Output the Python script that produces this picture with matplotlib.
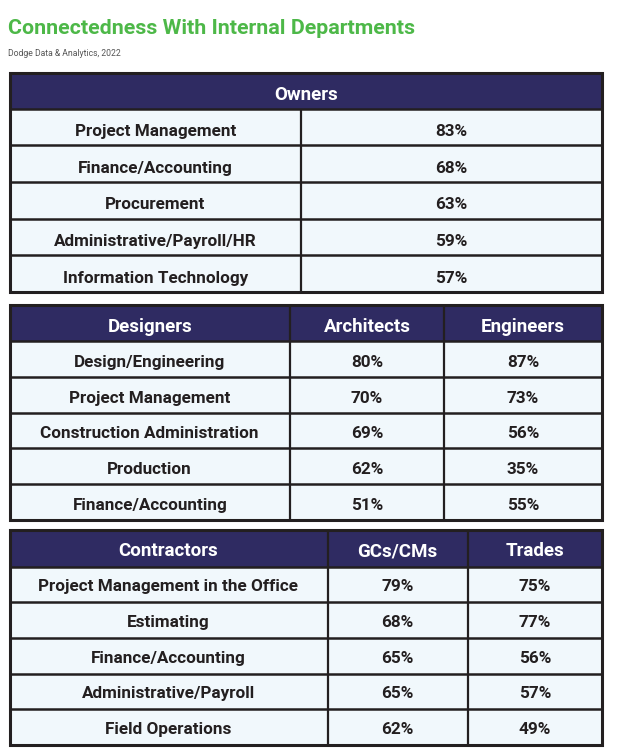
import matplotlib.pyplot as plt
from matplotlib.patches import Rectangle

plt.rcParams['font.family'] = ['Roboto', 'DejaVu Sans']

owner_depts = ['Project Management', 'Finance/Accounting', 'Procurement',
               'Administrative/Payroll/HR', 'Information Technology']
owner_pct = [83, 68, 63, 59, 57]

designer_depts = ['Design/Engineering', 'Project Management', 'Construction Administration',
                  'Production', 'Finance/Accounting']
architects_pct = [80, 70, 69, 62, 51]
engineers_pct = [87, 73, 56, 35, 55]

contractor_depts = ['Project Management in the Office', 'Estimating', 'Finance/Accounting',
                    'Administrative/Payroll', 'Field Operations']
gc_pct = [79, 68, 65, 65, 62]
trades_pct = [75, 77, 56, 57, 49]

NAVY = '#2f2b62'
CELL = '#f1f8fc'
EDGE = '#231f20'
TXT = '#231f20'

fig = plt.figure(figsize=(6.24, 7.56), dpi=100)
ax = fig.add_axes([0, 0, 1, 1])
ax.set_xlim(0, 624)
ax.set_ylim(756, 0)
ax.axis('off')

fig.text(8 / 624, 1 - 29 / 756, 'Connectedness With Internal Departments', color='#4db848',
         fontsize=15.4, fontweight='bold', va='center', ha='left')
fig.text(8 / 624, 1 - 54 / 756, 'Dodge Data & Analytics, 2022', color='#555555',
         fontsize=6.2, va='center', ha='left')


def pct(vals):
    return [f'{v}%' for v in vals]


def draw_table(top, bottom, cols, header, columns, head_h=36, merged=False, dy=1.5):
    n = len(columns[0])
    row_h = (bottom - top - head_h) / n
    left, right = cols[0], cols[-1]
    ax.add_patch(Rectangle((left, top), right - left, head_h, fc=NAVY, ec='none'))
    ax.add_patch(Rectangle((left, top + head_h), right - left, bottom - top - head_h,
                           fc=CELL, ec='none'))
    if merged:
        ax.text((left + right) / 2, top + head_h / 2 + dy, header[0], color='white',
                fontsize=13.5, fontweight='bold', ha='center', va='center_baseline')
    else:
        for j, h in enumerate(header):
            ax.text((cols[j] + cols[j + 1]) / 2, top + head_h / 2 + dy, h, color='white',
                    fontsize=13.5, fontweight='bold', ha='center', va='center_baseline')
    for j, col in enumerate(columns):
        for i, val in enumerate(col):
            yc = top + head_h + (i + 0.5) * row_h + dy
            ax.text((cols[j] + cols[j + 1]) / 2, yc, val, color=TXT,
                    fontsize=12.3, fontweight='bold', ha='center', va='center_baseline')
    # inner grid
    for i in range(n):
        y = top + head_h + i * row_h
        ax.plot([left, right], [y, y], color=EDGE, lw=1.8, solid_capstyle='butt')
    for x in cols[1:-1]:
        y0 = top + head_h if merged else top
        ax.plot([x, x], [y0, bottom], color=EDGE, lw=1.6, solid_capstyle='butt')
    ax.add_patch(Rectangle((left, top), right - left, bottom - top, fc='none',
                           ec=EDGE, lw=2.2))


draw_table(72.5, 292, [9.5, 301, 602], ['Owners'],
           [owner_depts, pct(owner_pct)], merged=True, dy=3)
draw_table(305, 520, [9.5, 290, 444, 602], ['Designers', 'Architects', 'Engineers'],
           [designer_depts, pct(architects_pct), pct(engineers_pct)], dy=2)
draw_table(529.5, 745, [9.5, 327.5, 467.5, 602], ['Contractors', 'GCs/CMs', 'Trades'],
           [contractor_depts, pct(gc_pct), pct(trades_pct)], head_h=37, dy=1)

fig.savefig('out.png', dpi=100, facecolor='white')
